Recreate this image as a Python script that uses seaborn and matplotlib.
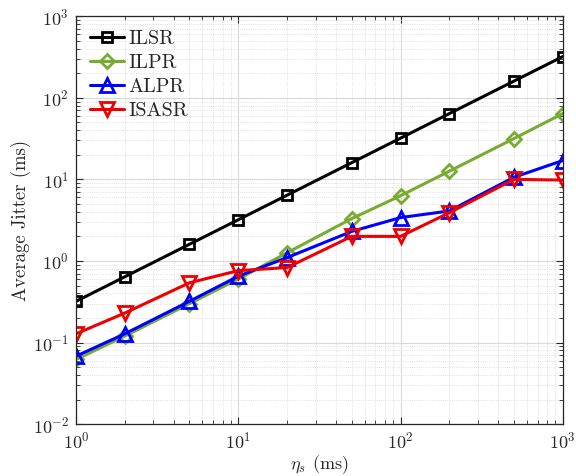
import matplotlib
matplotlib.use("Agg")
import matplotlib.pyplot as plt
import seaborn as sns
import pandas as pd
from matplotlib.ticker import LogLocator, NullFormatter

eta_s = [1, 2, 5, 10, 20, 50, 100, 200, 500, 1000]
ilsr = [0.32, 0.64, 1.6, 3.2, 6.4, 16, 32, 64, 160, 320]
ilpr = [0.062, 0.12, 0.3, 0.6, 1.26, 3.3, 6.3, 12.6, 31.6, 64]
alpr = [0.068, 0.128, 0.32, 0.65, 1.1, 2.3, 3.4, 4.1, 10.6, 17]
isasr = [0.128, 0.23, 0.54, 0.76, 0.83, 2.0, 2.0, 3.9, 10, 9.8]

sns.set_style("ticks")
plt.rcParams["font.family"] = "serif"
plt.rcParams["font.serif"] = ["cmr10", "DejaVu Serif"]
plt.rcParams["mathtext.fontset"] = "cm"
plt.rcParams["axes.formatter.use_mathtext"] = True

fig = plt.figure(figsize=(5.76, 4.76), dpi=100)
ax = fig.add_axes([0.132, 0.109, 0.845, 0.857])

series = [
    ("ILSR", ilsr, "black", "s", 7),
    ("ILPR", ilpr, "#77AC30", "D", 7),
    ("ALPR", alpr, "#0000FF", "^", 10),
    ("ISASR", isasr, "#EE0000", "v", 10),
]
for name, vals, col, mk, ms in series:
    df = pd.DataFrame({"eta": eta_s, "jitter": vals})
    sns.lineplot(data=df, x="eta", y="jitter", ax=ax, color=col, lw=2.2,
                 marker=mk, markersize=ms, markerfacecolor="none",
                 markeredgecolor=col, markeredgewidth=2, label=name)

ax.set_xscale("log")
ax.set_yscale("log")
ax.set_xlim(1, 1000)
ax.set_ylim(1e-2, 1e3)
ax.xaxis.set_major_locator(LogLocator(base=10, numticks=10))
ax.yaxis.set_major_locator(LogLocator(base=10, numticks=10))
ax.xaxis.set_minor_locator(LogLocator(base=10, subs=range(2, 10), numticks=20))
ax.yaxis.set_minor_locator(LogLocator(base=10, subs=range(2, 10), numticks=20))
ax.xaxis.set_minor_formatter(NullFormatter())
ax.yaxis.set_minor_formatter(NullFormatter())

ax.grid(True, which="major", color="#d9d9d9", lw=0.8, ls="-")
ax.grid(True, which="minor", color="#d6d6d6", lw=0.6, ls=":")
ax.set_axisbelow(True)
ax.tick_params(which="both", direction="in", top=True, right=True, labelsize=13)
ax.tick_params(axis="x", which="major", pad=5)
ax.tick_params(axis="y", which="major", pad=5)
ax.tick_params(which="major", length=5, width=0.8)
ax.tick_params(which="minor", length=3, width=0.6)
for sp in ax.spines.values():
    sp.set_linewidth(0.9)
    sp.set_color("#262626")

ax.set_xlabel(r"$\eta_s$ (ms)", fontsize=13, labelpad=1)
ax.set_ylabel("Average Jitter (ms)", fontsize=13.5, labelpad=1)

ax.legend(loc="upper left", frameon=False, fontsize=14.5, handlelength=1.7,
          handletextpad=0.2, labelspacing=0.28, borderaxespad=0.3,
          borderpad=0.4)

fig.savefig("out.png", dpi=100)
